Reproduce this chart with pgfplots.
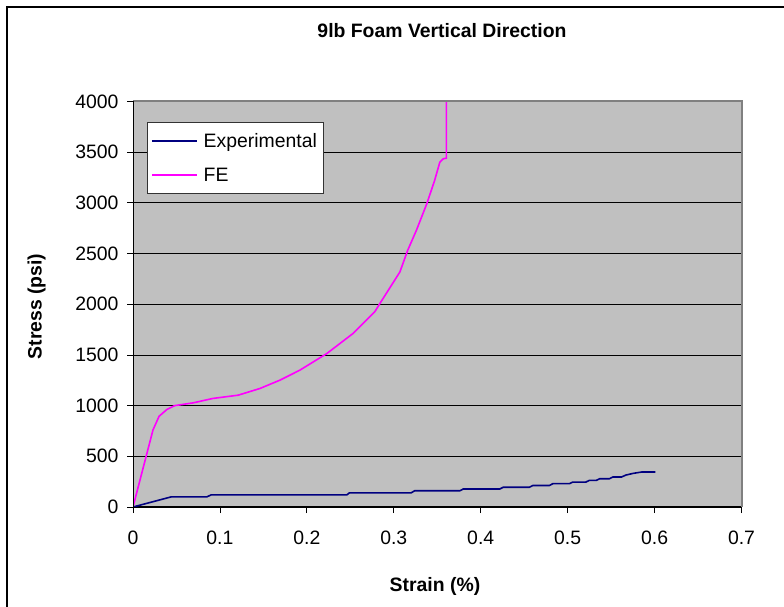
\documentclass[border=0pt]{standalone}
\usepackage{pgfplots}
\pgfplotsset{compat=1.18}
\usepackage{fontspec}
\setmainfont{Liberation Sans}

\definecolor{plotbg}{HTML}{C0C0C0}
\definecolor{frameg}{HTML}{808080}
\definecolor{expcol}{HTML}{000080}
\definecolor{fecol}{HTML}{FF00FF}

\newcommand{\chartfont}{\fontsize{19.4bp}{22bp}\selectfont}

% legend sample: a long line followed by a small gap
\pgfplotsset{
  long line legend/.style={
    legend image code/.code={
      \draw[##1] (0bp,0bp) -- (45bp,0bp);
      \path (49bp,0bp);
    },
  },
}

\begin{document}
\begin{tikzpicture}
\useasboundingbox (0,0) rectangle (784bp,607bp);

% outer chart frame (top and left edges)
\draw[line width=2bp] (7.3bp,0) -- (7.3bp,599.7bp) -- (784bp,599.7bp);

\begin{axis}[
  at={(133bp,100bp)}, anchor=south west,
  width=608.5bp, height=405.5bp, scale only axis,
  xmin=0, xmax=0.7, ymin=0, ymax=4000,
  xtick={0,0.1,0.2,0.3,0.4,0.5,0.6,0.7},
  ytick={0,500,1000,1500,2000,2500,3000,3500,4000},
  axis x line*=bottom, axis y line*=left,
  axis line style={-, black, line width=1bp},
  tick align=outside, major tick length=6bp,
  tick style={black, line width=0.8bp},
  ymajorgrids, grid style={black, line width=0.8bp},
  axis background/.style={fill=plotbg},
  /pgf/number format/assume math mode=true,
  /pgf/number format/1000 sep={},
  ticklabel style={font=\chartfont},
  xticklabel style={yshift=-14bp},
  yticklabel style={xshift=-5bp},
  legend style={
    at={(axis description cs:0.0225,0.95)}, anchor=north west,
    fill=white, draw=black!80, line width=0.8bp,
    font=\chartfont, inner xsep=4bp, inner ysep=9bp,
    row sep=15bp, cells={anchor=west},
  },
  after end axis/.code={
    \draw[frameg, line width=2bp] (rel axis cs:0,1) -- (rel axis cs:1,1) -- (rel axis cs:1,0);
    \draw[black, line width=1bp] (rel axis cs:0,0) -- (rel axis cs:0,1);
  },
]

% measured stress-strain response
\addplot[expcol, line width=1.6bp, long line legend] coordinates {
  (0,0) (0.044,100) (0.085,100) (0.090,120) (0.246,120) (0.249,140)
  (0.320,140) (0.324,160) (0.376,160) (0.380,178) (0.422,178) (0.426,195)
  (0.456,195) (0.460,212) (0.479,212) (0.483,230) (0.502,230) (0.506,246)
  (0.521,246) (0.525,263) (0.533,263) (0.537,279) (0.548,279) (0.552,296)
  (0.562,296) (0.567,315) (0.575,331) (0.585,345) (0.601,345)
};
\addlegendentry{Experimental}

% finite element prediction
\addplot[fecol, line width=1.6bp, long line legend] coordinates {
  (0,0) (0.023,760) (0.030,895) (0.039,962) (0.048,1000) (0.069,1027)
  (0.092,1071) (0.121,1103) (0.146,1169) (0.169,1251) (0.192,1350)
  (0.223,1514) (0.253,1711) (0.278,1924) (0.284,2007) (0.307,2318)
  (0.316,2532) (0.326,2729) (0.338,2992) (0.347,3222) (0.353,3402)
  (0.357,3435) (0.3605,3441) (0.3605,4000)
};
\addlegendentry{FE}
\end{axis}

\node[font=\chartfont\bfseries, anchor=base] at (442bp,569.7bp) {9lb Foam Vertical Direction};
\node[font=\chartfont\bfseries, rotate=90, anchor=center] at (36.5bp,300.5bp) {Stress (psi)};
\node[font=\chartfont\bfseries, anchor=base] at (435bp,16bp) {Strain (\%)};
\end{tikzpicture}
\end{document}
